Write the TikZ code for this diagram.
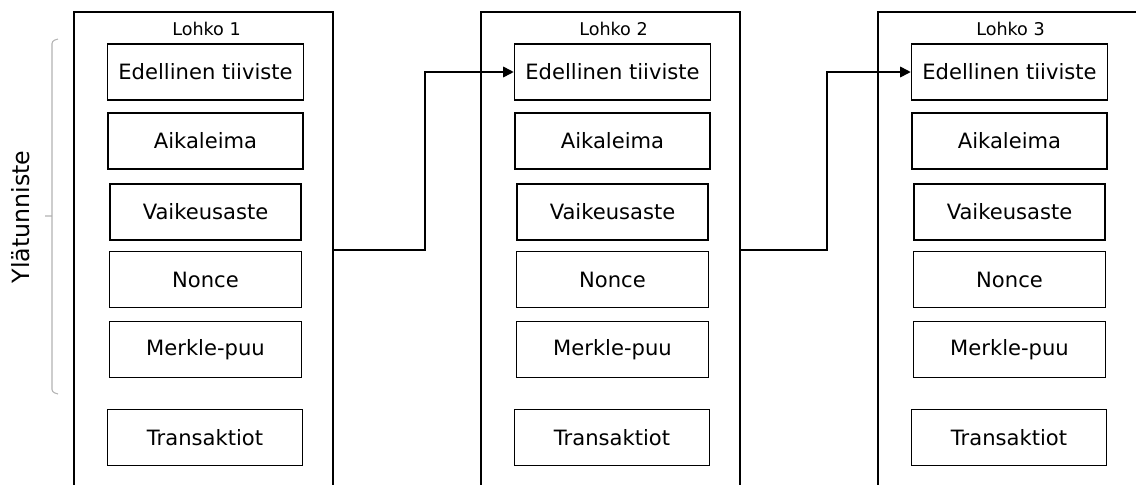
\documentclass[tikz,border=0pt]{standalone}
\usepackage{fontspec}
\setmainfont{DejaVu Sans}
\usetikzlibrary{arrows.meta}

\begin{document}
\begin{tikzpicture}[x=.02cm,y=-.02cm,
  blk/.style={draw,line width=.9pt,minimum width=5.18cm,minimum height=9.52cm,inner sep=0pt},
  fld/.style={draw,line width=.9pt,minimum height=1.12cm,inner sep=0pt,font=\fontsize{12}{14}\selectfont},
  ttl/.style={font=\fontsize{10}{12}\selectfont},
  arr/.style={line width=.9pt,-{Triangle[length=6pt,width=6pt]}}]
 \clip (0,0) rectangle (1136,484);
 % the three blocks
 \foreach \i/\x in {1/203.5,2/610.5,3/1007.5}{
  \node[blk] (b\i) at (\x,250) {};
  \node[ttl] (l\i) at (\x+3,28.5) {Lohko \i};
  \node[fld,minimum width=3.92cm] (e\i) at (\x+2,72) {Edellinen tiiviste};
  \node[fld,minimum width=3.9cm] (a\i) at (\x+2,141) {Aikaleima};
  \node[fld,minimum width=3.82cm] (v\i) at (\x+2,212) {Vaikeusaste};
  \node[fld,minimum width=3.84cm] (n\i) at (\x+2,279.5) {Nonce};
  \node[fld,minimum width=3.84cm] (m\i) at (\x+2,349.5) {Merkle-puu};
  \node[fld,minimum width=3.9cm] (t\i) at (\x+1.5,437.5) {Transaktiot};
 }
 \draw[arr] (b1.east) -- ++(91,0) |- (e2.west);
 \draw[arr] (b2.east) -- ++(86,0) |- (e3.west);
 % header bracket
 \draw[gray!60,line width=.6pt,rounded corners=1.5] (58,39) -- (52,41) -- (52,392) -- (58,394) (52,216) -- (45,216);
 \node[rotate=90,font=\fontsize{13.5}{16}\selectfont] (hdr) at (21,217) {Ylätunniste};
\end{tikzpicture}
\end{document}
